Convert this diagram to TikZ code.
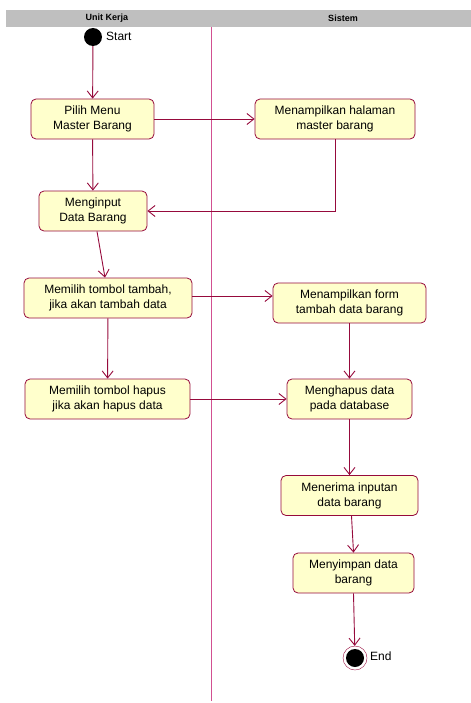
\documentclass[tikz,border=0pt]{standalone}
\usepackage{fontspec}
\setmainfont{Liberation Sans}
\usetikzlibrary{arrows.meta}
\definecolor{umlline}{RGB}{150,10,60}
\definecolor{umlfill}{RGB}{255,255,204}
\definecolor{lane}{RGB}{210,80,145}
\tikzstyle{activity}=[rectangle,rounded corners=5bp,draw=umlline,fill=umlfill,thick,minimum height=40bp,inner sep=0pt,align=center,font=\fontsize{12bp}{15bp}\selectfont]
\tikzstyle{flow} = [draw=umlline,line width=0.9bp,-{Straight Barb[length=7bp,width=11bp]}]
\tikzstyle{lanetitle} = [font=\fontsize{9bp}{10bp}\selectfont\bfseries]
\tikzstyle{statelabel} = [font=\fontsize{12bp}{14bp}\selectfont,anchor=west,inner sep=0pt]

\begin{document}
\begin{tikzpicture}[x=1bp,y=-1bp]
    \useasboundingbox (0,0) rectangle (471,703);

    % swimlanes
    \fill[black!25] (6,10) rectangle (471,27);
    \node[lanetitle] (unit) at (107,18.5) {Unit Kerja};
    \node[lanetitle] (sistem) at (343,18.5) {Sistem};
    \draw[draw=lane,line width=1bp] (211,27) -- (211,701);

    % start and end
    \node[circle,fill=black,minimum size=18bp,inner sep=0pt] (start) at (93,37) {};
    \node[statelabel] at (106,36) {Start};
    \node[circle,draw=umlline,fill=white,minimum size=24bp,inner sep=0pt] (end) at (355,658) {};
    \fill[black] (end) circle (9bp);
    \node[statelabel] at (370,656) {End};

    % activities
    \foreach \pos/ \name/ \w/ \txt in {{(92.5,119)/pilih/123/{Pilih Menu\\Master Barang}},
        {(335,119)/halaman/160/{Menampilkan halaman\\master barang}},
        {(93,211)/input/108/{Menginput\\Data Barang}},
        {(108,298)/tambah/168/{Memilih tombol tambah,\\jika akan tambah data}},
        {(349.5,303)/form/153/{Menampilkan form\\tambah data barang}},
        {(107.5,399)/hapus/165/{Memilih tombol hapus\\jika akan hapus data}},
        {(349.5,399)/hapusdb/125/{Menghapus data\\pada database}},
        {(349.5,495.5)/terima/137/{Menerima inputan\\data barang}},
        {(353.5,573)/simpan/121/{Menyimpan data\\barang}}}
        \node[activity,minimum width=\w bp] (\name) at \pos {\txt};

    % transitions
    \path[flow] (start) -- (pilih);
    \path[flow] (pilih) -- (halaman);
    \path[flow] (pilih) -- (input);
    \path[flow] (halaman.south) |- (input.east);
    \path[flow] ([xshift=4bp]input.south) -- ([xshift=-3bp]tambah.north);
    \path[flow] ([yshift=2bp]tambah.east) -- ([yshift=2bp]tambah.east -| form.west);
    \path[flow] (tambah) -- (hapus);
    \path[flow] (form) -- (hapusdb);
    \path[flow] (hapus) -- (hapusdb);
    \path[flow] (hapusdb) -- (terima);
    \path[flow] ([xshift=2bp]terima.south) -- (simpan.north);
    \path[flow] (simpan.south) -- (end);
\end{tikzpicture}
\end{document}
